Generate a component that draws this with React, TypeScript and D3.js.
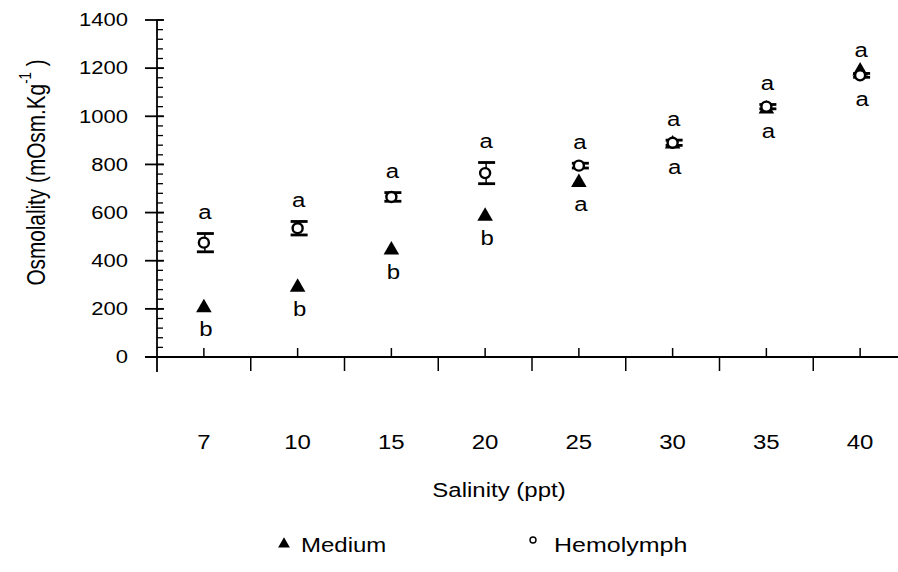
import { useEffect, useRef } from 'react'
import * as d3 from 'd3'

const W = 898, H = 572
const M = { top: 20, right: -9, bottom: 215, left: 157 }

const categories = ['7', '10', '15', '20', '25', '30', '35', '40']
const medium = [205, 290, 445, 585, 725, 885, 1030, 1188]
const hemolymph = [475, 535, 665, 764, 795, 890, 1040, 1170]
const hemolymphErr = [38, 28, 18, 44, 10, 11, 9, 8]
const lettersTop = ['a', 'a', 'a', 'a', 'a', 'a', 'a', 'a']
const lettersBottom = ['b', 'b', 'b', 'b', 'a', 'a', 'a', 'a']
const yTicks = [0, 200, 400, 600, 800, 1000, 1200, 1400]

const FONT = 'Liberation Sans, Arial, sans-serif'
const SY = 0.83 // the scan is squashed vertically

type Sel = d3.Selection<SVGGElement, unknown, null, undefined>

function label(g: Sel, x: number, y: number, txt: string, size = 24, anchor = 'middle') {
  return g.append('text')
    .attr('transform', `translate(${x},${y}) scale(1,${SY})`)
    .attr('text-anchor', anchor).attr('dominant-baseline', 'central')
    .attr('font-size', size).attr('font-family', FONT).attr('fill', '#000')
    .text(txt)
}

export default function App() {
  const svgRef = useRef<SVGSVGElement>(null)

  useEffect(() => {
    document.body.style.margin = '0'
    const svg = d3.select(svgRef.current!)
    svg.selectAll('*').remove()

    const iw = W - M.left - M.right
    const ih = H - M.top - M.bottom

    const x = d3.scaleBand<string>().domain(categories).range([0, iw])
    const y = d3.scaleLinear().domain([0, 1400]).range([ih, 0])
    const cx = (c: string) => x(c)! + x.bandwidth() / 2

    const g = svg.append('g').attr('transform', `translate(${M.left},${M.top})`) as unknown as Sel

    // y axis line (runs a bit below the x axis)
    g.append('line').attr('x1', 0).attr('x2', 0).attr('y1', 0).attr('y2', ih + 15)
      .attr('stroke', '#000').attr('stroke-width', 1.8)
    // minor ticks
    d3.range(0, 1401, 40).forEach(v => {
      g.append('line').attr('x1', 0).attr('x2', 6).attr('y1', y(v)).attr('y2', y(v))
        .attr('stroke', '#000').attr('stroke-width', 1.3)
    })
    // major ticks + labels
    yTicks.forEach(v => {
      g.append('line').attr('x1', -12).attr('x2', 7).attr('y1', y(v)).attr('y2', y(v))
        .attr('stroke', '#000').attr('stroke-width', 1.8)
      label(g, -29, y(v), String(v), 22, 'end')
    })

    // x axis
    g.append('line').attr('x1', -12).attr('x2', iw).attr('y1', ih).attr('y2', ih)
      .attr('stroke', '#000').attr('stroke-width', 1.8)
    categories.forEach((c, i) => {
      g.append('line').attr('x1', cx(c)).attr('x2', cx(c)).attr('y1', ih).attr('y2', ih - 9)
        .attr('stroke', '#000').attr('stroke-width', 1.5)
      if (i > 0) {
        g.append('line').attr('x1', x(c)!).attr('x2', x(c)!).attr('y1', ih).attr('y2', ih + 14)
          .attr('stroke', '#000').attr('stroke-width', 1.5)
      }
      label(g, cx(c), ih + 85, c)
    })

    // axis titles
    label(g, 342, ih + 133, 'Salinity (ppt)')
    const yt = g.append('text')
      .attr('transform', `translate(-121,${ih / 2 - 16}) scale(1,${SY}) rotate(-90)`)
      .attr('text-anchor', 'middle').attr('dominant-baseline', 'central')
      .attr('font-size', 25).attr('font-family', FONT)
    yt.append('tspan').text('Osmolality (mOsm.Kg')
    yt.append('tspan').attr('dy', -10).attr('font-size', 16).text('-1')
    yt.append('tspan').attr('dy', 10).text(' )')

    const tri = d3.symbol().type(d3.symbolTriangle).size(105)

    // Medium triangles
    categories.forEach((c, i) => {
      g.append('path').attr('d', tri()!)
        .attr('transform', `translate(${cx(c)},${y(medium[i])})`)
        .attr('fill', '#000')
    })

    // Hemolymph error bars
    categories.forEach((c, i) => {
      const xc = cx(c) + 1
      const lo = y(hemolymph[i] - hemolymphErr[i]), hi = y(hemolymph[i] + hemolymphErr[i])
      g.append('line').attr('x1', xc).attr('x2', xc).attr('y1', lo).attr('y2', hi)
        .attr('stroke', '#000').attr('stroke-width', 1.5)
      ;[lo, hi].forEach(yy => {
        g.append('line').attr('x1', xc - 8).attr('x2', xc + 9).attr('y1', yy).attr('y2', yy)
          .attr('stroke', '#000').attr('stroke-width', 2.8)
      })
    })

    // Hemolymph circles
    categories.forEach((c, i) => {
      g.append('circle').attr('cx', cx(c)).attr('cy', y(hemolymph[i])).attr('r', 5)
        .attr('fill', '#fff').attr('stroke', '#000').attr('stroke-width', 2.4)
    })

    // significance letters
    categories.forEach((c, i) => {
      const top = Math.max(hemolymph[i] + hemolymphErr[i], medium[i])
      const bot = Math.min(hemolymph[i] - hemolymphErr[i], medium[i])
      label(g, cx(c) + 1, y(top) - 21, lettersTop[i])
      label(g, cx(c) + 2, y(bot) + 22, lettersBottom[i])
    })

    // legend
    const lg = svg.append('g').attr('transform', `translate(0,545)`) as unknown as Sel
    lg.append('path').attr('d', d3.symbol().type(d3.symbolTriangle).size(60)()!)
      .attr('transform', 'translate(284,-1)').attr('fill', '#000')
    label(lg, 301, 0, 'Medium', 24, 'start')
    lg.append('circle').attr('cx', 533).attr('cy', -5).attr('r', 3)
      .attr('fill', '#fff').attr('stroke', '#000').attr('stroke-width', 1.4)
    label(lg, 554, 0, 'Hemolymph', 25, 'start')
  }, [])

  return <svg ref={svgRef} width={W} height={H} style={{ display: 'block', background: '#fff' }} />
}
